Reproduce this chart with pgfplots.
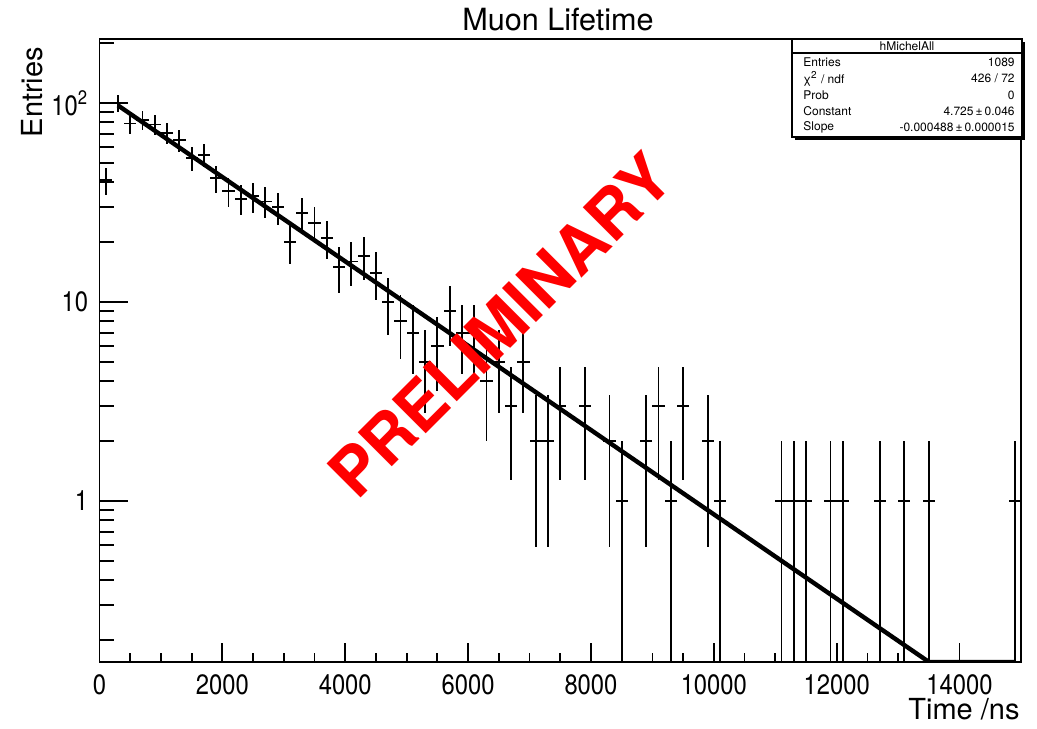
\documentclass[border=0pt]{standalone}
\usepackage{pgfplots}
\pgfplotsset{compat=1.18}
\usepackage{pgfplotstable}
\usepackage{fontspec}
\setmainfont{TeX Gyre Heros}
\newfontfamily\tickfont[FakeStretch=0.85]{TeX Gyre Heros}

\pgfplotstableread{
x y ep em
100 41 6.40 6.40
300 100 10 10
500 79 8.89 8.89
700 82 9.06 9.06
900 78 8.83 8.83
1100 71 8.43 8.43
1300 65 8.06 8.06
1500 53 7.28 7.28
1700 55 7.42 7.42
1900 42 6.48 6.48
2100 36 6 6
2300 33 5.74 5.74
2500 34 5.83 5.83
2700 32 5.66 5.66
2900 30 5.48 5.48
3100 20 4.47 4.47
3300 28 5.29 5.29
3500 25 5 5
3700 21 4.58 4.58
3900 15 3.87 3.87
4100 16 4 4
4300 17 4.12 4.12
4500 14 3.74 3.74
4700 10 3.16 3.16
4900 8 2.83 2.83
5100 7 2.65 2.65
5300 5 2.24 2.24
5500 6 2.45 2.45
5700 9 3 3
5900 7 2.65 2.65
6100 7 2.65 2.65
6300 4 2 2
6500 5 2.24 2.24
6700 3 1.73 1.73
6900 5 2.24 2.24
7100 2 1.41 1.41
7300 2 1.41 1.41
7500 3 1.73 1.73
7900 3 1.73 1.73
8300 2 1.41 1.41
8500 1 1 0.99
8900 2 1.41 1.41
9100 3 1.73 1.73
9300 1 1 0.99
9500 3 1.73 1.73
9900 2 1.41 1.41
10100 1 1 0.99
11100 1 1 0.99
11300 1 1 0.99
11500 1 1 0.99
11900 1 1 0.99
12100 1 1 0.99
12700 1 1 0.99
13100 1 1 0.99
13500 1 1 0.99
14900 1 1 0.99
}\hist

\pgfplotstableread{
x y
300 97.4
13502 0.155
14900 0.155
}\fit

\begin{document}
\begin{tikzpicture}
\begin{axis}[
  at={(0pt,0pt)}, anchor=south west,
  scale only axis, width=460.75pt, height=311.5pt,
  xmin=0, xmax=15000, ymode=log, ymin=0.155, ymax=210,
  axis line style={line width=0.9pt},
  tick align=inside, tick pos=left,
  tick style={black, line width=0.9pt},
  xtick={0,2000,4000,6000,8000,10000,12000,14000},
  xticklabels={0,2000,4000,6000,8000,10000,12000,14000},
  minor x tick num=3,
  ytick={1,10,100}, yticklabels={1,10,10\textsuperscript{2}},
  minor ytick={0.2,0.3,0.4,0.5,0.6,0.7,0.8,0.9,2,3,4,5,6,7,8,9,20,30,40,50,60,70,80,90,200},
  xtick style={/pgfplots/major tick length=9.5pt, /pgfplots/minor tick length=4.7pt},
  ytick style={/pgfplots/major tick length=14pt, /pgfplots/minor tick length=7.5pt},
  ticklabel style={font=\tickfont\fontsize{14}{14}\selectfont},
  xticklabel style={anchor=base, yshift=-16pt},
  yticklabel style={anchor=east, inner sep=0pt, xshift=-5.5pt},
]
\addplot[draw=none, mark=none,
  error bars/.cd, x dir=both, x fixed=100, y dir=both, y explicit,
  error mark=none, error bar style={draw=black, solid, line width=0.9pt}]
  table[x=x, y=y, y error plus=ep, y error minus=em] {\hist};
\addplot[black, line width=2.2pt] table[x=x, y=y] {\fit};
\node[rotate=45, text=red, font=\bfseries\fontsize{33}{33}\selectfont] at (axis cs:6520,7.66) {PRELIMINARY};
\end{axis}
% title and axis titles
\node[anchor=base, font=\fontsize{15.3}{16}\selectfont] at (229.25pt,315.5pt) {Muon Lifetime};
\node[rotate=90, anchor=base east, font=\fontsize{14.5}{15}\selectfont] at (-28.25pt,311pt) {Entries};
\node[anchor=base east, inner sep=0pt, font=\fontsize{14.5}{15}\selectfont] at (460.25pt,-28.5pt) {Time /ns};
% stats box
\draw[line width=1.4pt] (347.5pt,261.5pt) -- (462pt,261.5pt) -- (462pt,310pt);
\draw[line width=0.6pt, fill=white] (346.25pt,262.5pt) rectangle (461.25pt,311.5pt);
\draw[line width=0.6pt] (346.25pt,304.5pt) -- (461.25pt,304.5pt);
\begin{scope}[font=\fontsize{6}{7}\selectfont]
\node[anchor=center] at (403.75pt,308pt) {hMichelAll};
\node[anchor=west, inner sep=0pt] at (351.75pt,300pt) {Entries};
\node[anchor=east, inner sep=0pt] at (457.75pt,300pt) {1089};
\node[anchor=west, inner sep=0pt] at (351.75pt,291.75pt) {χ\textsuperscript{2} / ndf};
\node[anchor=east, inner sep=0pt] at (457.75pt,291.75pt) {426 / 72};
\node[anchor=west, inner sep=0pt] at (351.75pt,283.5pt) {Prob};
\node[anchor=east, inner sep=0pt] at (457.75pt,283.5pt) {0};
\node[anchor=west, inner sep=0pt] at (351.75pt,275.5pt) {Constant};
\node[anchor=east, inner sep=0pt] at (457.75pt,275.5pt) {4.725\,±\,0.046};
\node[anchor=west, inner sep=0pt] at (351.75pt,267.5pt) {Slope};
\node[anchor=east, inner sep=0pt] at (457.75pt,267.5pt) {-0.000488\,±\,0.000015};
\end{scope}
\pgfresetboundingbox
\useasboundingbox (-49.75pt,-33pt) rectangle (468.75pt,331pt);
\end{tikzpicture}
\end{document}
